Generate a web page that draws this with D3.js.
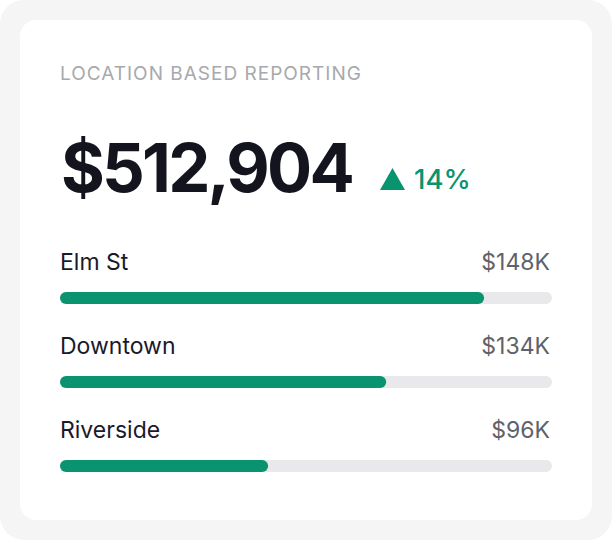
<!DOCTYPE html>
<html><head><meta charset="utf-8">
<script src="https://cdn.jsdelivr.net/npm/d3@7"></script>
<style>html,body{margin:0;padding:0;background:#fff;}svg{display:block;font-family:Inter,"Noto Sans",sans-serif;}</style>
</head><body>
<script>
const title = "LOCATION BASED REPORTING";
const totalLabel = "$512,904";
const changeLabel = "14%";
const locations = ["Elm St", "Downtown", "Riverside"];
const valueLabels = ["$148K", "$134K", "$96K"];
const progress = [86.2, 66.3, 42.3];

const W = 612, H = 540;
const svg = d3.select("body").append("svg").attr("width", W).attr("height", H);
svg.append("rect").attr("width", W).attr("height", H).attr("rx", 24).attr("fill", "#f5f5f5");
svg.append("rect").attr("x", 20).attr("y", 20).attr("width", 572).attr("height", 500).attr("rx", 16).attr("fill", "#ffffff");

svg.append("text").attr("x", 60).attr("y", 80).text(title)
  .attr("font-size", 19).attr("fill", "#a7a9ac").attr("letter-spacing", 1.0);

svg.append("text").attr("x", 61).attr("y", 192).text(totalLabel)
  .attr("font-size", 67).attr("font-weight", 700).attr("fill", "#14141f").attr("letter-spacing", -2.8);

svg.append("path").attr("d", "M380,190 L392.5,168 L405,190 Z").attr("fill", "#0a936f");
svg.append("text").attr("x", 414).attr("y", 189).text(changeLabel)
  .attr("font-size", 27.5).attr("font-weight", 500).attr("fill", "#0a936f");

const x = d3.scaleLinear().domain([0, 100]).range([60, 552]);
const y = d3.scaleBand().domain(locations).range([292, 544]).paddingInner(0).paddingOuter(0);
const barH = 12;

const rows = svg.selectAll("g.row").data(locations).join("g").attr("class", "row")
  .attr("transform", d => `translate(0,${y(d)})`);
rows.append("text").attr("x", 60).attr("y", -22).text(d => d)
  .attr("font-size", 23).attr("font-weight", 400).attr("fill", "#1a1a2b");
rows.append("text").attr("x", 550).attr("y", -22).attr("text-anchor", "end").text((d, i) => valueLabels[i])
  .attr("font-size", 23).attr("fill", "#5f6268");
rows.append("rect").attr("x", x(0)).attr("y", 0).attr("width", x(100) - x(0)).attr("height", barH)
  .attr("rx", 6).attr("fill", "#e9e9eb");
rows.append("rect").attr("x", x(0)).attr("y", 0).attr("width", (d, i) => x(progress[i]) - x(0)).attr("height", barH)
  .attr("rx", 6).attr("fill", "#0a936f");
</script>
</body></html>
